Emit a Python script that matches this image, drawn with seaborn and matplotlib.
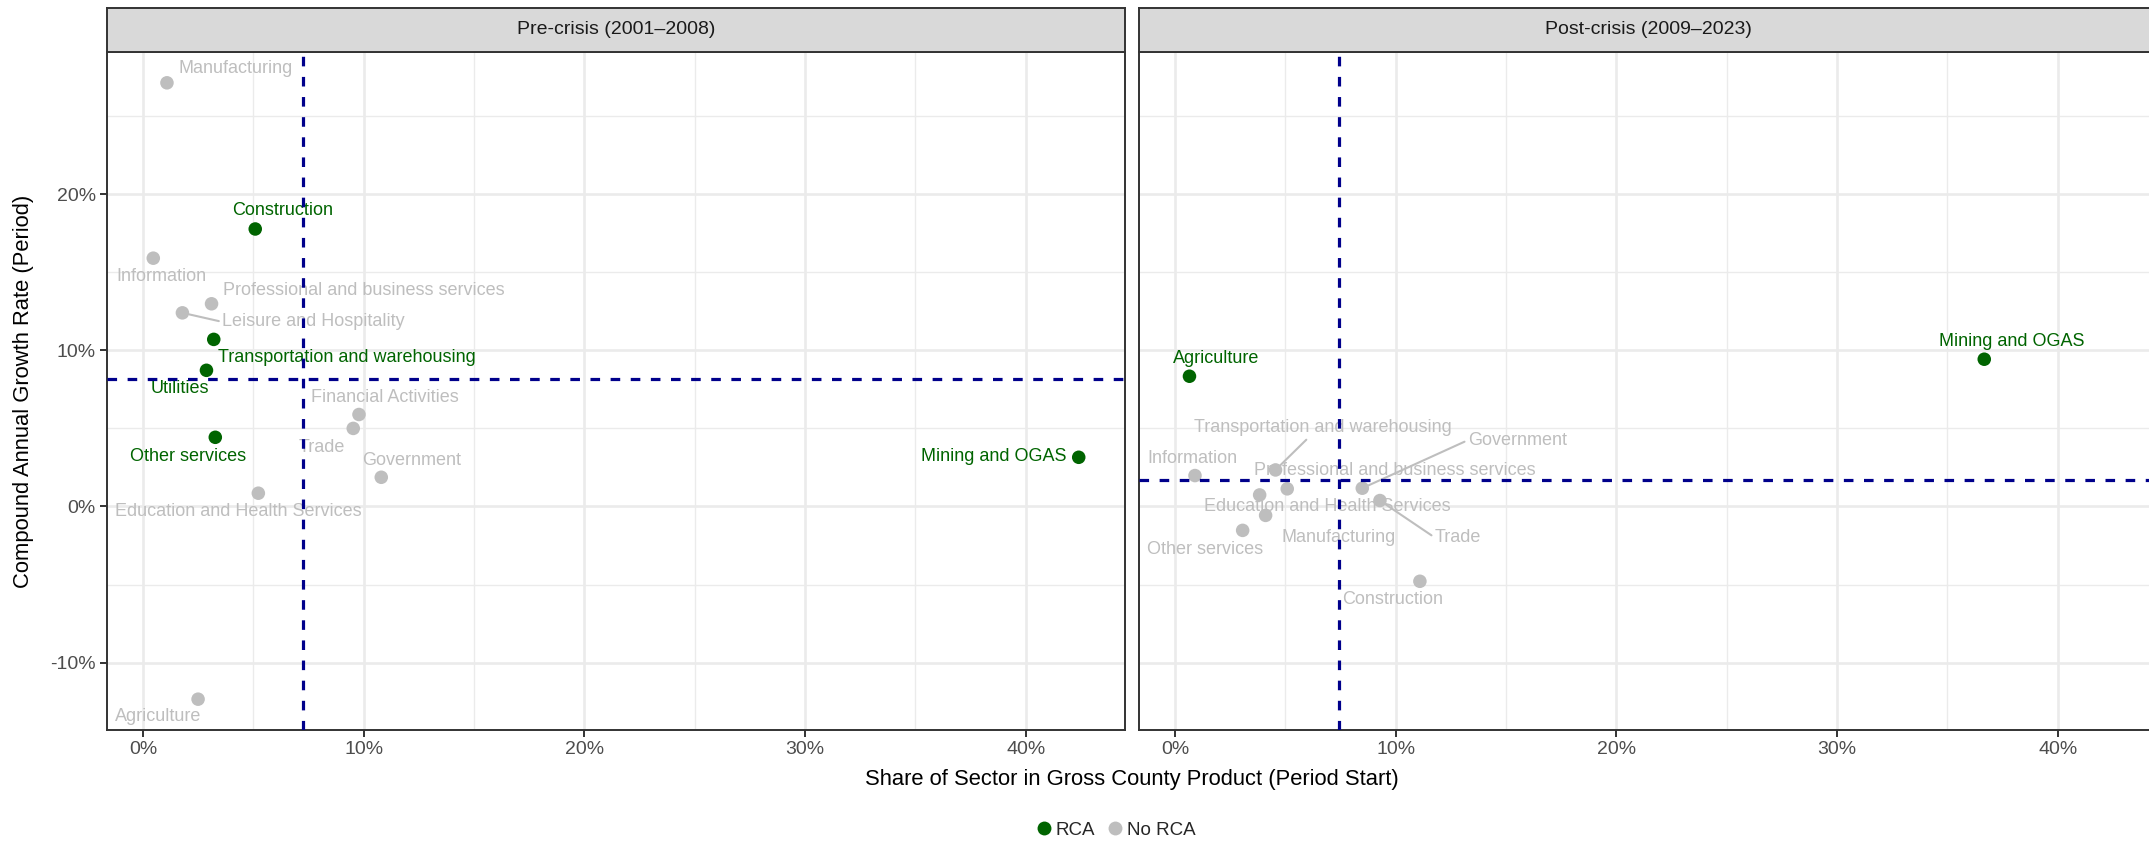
import matplotlib
matplotlib.use("Agg")
import numpy as np
import pandas as pd
import matplotlib.pyplot as plt
import seaborn as sns
from matplotlib.lines import Line2D
from matplotlib.ticker import FuncFormatter, MultipleLocator, FixedLocator

sns.set_theme(style="white")
plt.rcParams["font.family"] = ["Liberation Sans", "DejaVu Sans"]

# ---- data -------------------------------------------------------------
pre_sectors = ["Manufacturing", "Construction", "Information",
               "Professional and business services", "Leisure and Hospitality",
               "Transportation and warehousing", "Utilities", "Financial Activities",
               "Trade", "Other services", "Government",
               "Education and Health Services", "Agriculture", "Mining and OGAS"]
pre_share = [1.09, 5.09, 0.47, 3.11, 1.79, 3.21, 2.88, 9.79, 9.53, 3.28, 10.80, 5.23, 2.50, 42.40]
pre_growth = [27.13, 17.77, 15.90, 12.98, 12.40, 10.70, 8.72, 5.89, 5.00, 4.43, 1.87, 0.85, -12.34, 3.15]
pre_rca = ["No RCA", "RCA", "No RCA", "No RCA", "No RCA", "RCA", "RCA", "No RCA",
           "No RCA", "RCA", "No RCA", "No RCA", "No RCA", "RCA"]

post_sectors = ["Agriculture", "Information", "Transportation and warehousing",
                "Professional and business services", "Education and Health Services",
                "Manufacturing", "Other services", "Government", "Trade",
                "Construction", "Mining and OGAS"]
post_share = [0.66, 0.91, 4.56, 5.09, 3.84, 4.11, 3.07, 8.49, 9.29, 11.10, 36.67]
post_growth = [8.34, 1.98, 2.34, 1.13, 0.74, -0.57, -1.53, 1.17, 0.38, -4.79, 9.43]
post_rca = ["RCA", "No RCA", "No RCA", "No RCA", "No RCA", "No RCA", "No RCA",
            "No RCA", "No RCA", "No RCA", "RCA"]

panel_titles = ["Pre-crisis (2001\u20132008)", "Post-crisis (2009\u20132023)"]
ref_share = [7.24, 7.45]      # average sector share per period
ref_growth = [8.19, 1.70]     # average growth rate per period
x_ticks = [0, 10, 20, 30, 40]
y_ticks = [-10, 0, 10, 20]

palette = {"RCA": "#006400", "No RCA": "#BEBEBE"}

# ---- label placement (pixel offsets of label centre from its point) ----
label_offsets = [
    {
        "Manufacturing": (69, -14), "Construction": (27, -18), "Information": (8, 18),
        "Professional and business services": (152, -13),
        "Leisure and Hospitality": (131, 9),
        "Transportation and warehousing": (133, 18), "Utilities": (-27, 18),
        "Financial Activities": (26, -17), "Trade": (-31, 19),
        "Other services": (-27, 19), "Government": (30, -17),
        "Education and Health Services": (-20, 18), "Agriculture": (-40, 17),
        "Mining and OGAS": (-85, -1),
    },
    {
        "Agriculture": (27, -18), "Information": (-3, -17),
        "Transportation and warehousing": (47, -42),
        "Professional and business services": (108, -18),
        "Education and Health Services": (68, 12), "Manufacturing": (73, 22),
        "Other services": (-38, 19), "Government": (155, -48), "Trade": (78, 37),
        "Construction": (-27, 18), "Mining and OGAS": (27, -18),
    },
]
# labels connected to their point by a segment: relpos on the label box
leaders = [
    {"Leisure and Hospitality": (0.0, 0.5)},
    {"Transportation and warehousing": (0.45, 0.0), "Government": (0.0, 0.5),
     "Trade": (0.0, 0.5)},
]

frames = [
    pd.DataFrame({"sector": pre_sectors, "share": pre_share,
                  "growth": pre_growth, "rca": pre_rca}),
    pd.DataFrame({"sector": post_sectors, "share": post_share,
                  "growth": post_growth, "rca": post_rca}),
]

# shared scales with 5% padding on each side
all_x = np.array(pre_share + post_share)
all_y = np.array(pre_growth + post_growth)
def padded(v):
    lo, hi = v.min(), v.max()
    pad = 0.05 * (hi - lo)
    return lo - pad, hi + pad
xlim = padded(all_x)
ylim = padded(all_y)

# ---- figure -----------------------------------------------------------
W, H = 2149, 844
fig = plt.figure(figsize=(W / 100, H / 100), dpi=100)
fig.patch.set_facecolor("white")

panel_left = [107, 1139]
panel_w = 1018
panel_top, panel_bottom = 52, 730
strip_top = 8

border = "#333333"
grid_c = "#EBEBEB"
pct = FuncFormatter(lambda v, p: f"{v:.0f}%")

for i, df in enumerate(frames):
    ax = fig.add_axes([panel_left[i] / W, (H - panel_bottom) / H,
                       panel_w / W, (panel_bottom - panel_top) / H])
    ax.set_facecolor("white")
    ax.set_xlim(*xlim)
    ax.set_ylim(*ylim)
    ax.xaxis.set_major_locator(FixedLocator(x_ticks))
    ax.yaxis.set_major_locator(FixedLocator(y_ticks))
    ax.xaxis.set_minor_locator(MultipleLocator(5))
    ax.yaxis.set_minor_locator(MultipleLocator(5))
    ax.xaxis.set_major_formatter(pct)
    ax.yaxis.set_major_formatter(pct)
    ax.set_axisbelow(True)
    ax.grid(which="major", color=grid_c, lw=1.9)
    ax.grid(which="minor", color=grid_c, lw=1.0)
    for s in ax.spines.values():
        s.set_color(border)
        s.set_linewidth(1.4)
        s.set_visible(True)
    ax.tick_params(which="major", length=5, width=1.4, color=border,
                   labelsize=14, labelcolor="#4D4D4D", pad=3,
                   bottom=True, left=(i == 0))
    ax.tick_params(which="minor", length=0)
    if i > 0:
        ax.tick_params(labelleft=False)

    sns.scatterplot(data=df, x="share", y="growth", hue="rca", palette=palette,
                    s=95, edgecolor="none", linewidth=0, legend=False,
                    ax=ax, zorder=3)
    ax.set_xlabel("")
    ax.set_ylabel("")

    for _, row in df.iterrows():
        dx, dy = label_offsets[i][row["sector"]]
        col = palette[row["rca"]]
        kw = {}
        if row["sector"] in leaders[i]:
            kw["arrowprops"] = dict(arrowstyle="-", color=col, lw=1.5,
                                    shrinkA=0, shrinkB=5,
                                    relpos=leaders[i][row["sector"]])
        ax.annotate(row["sector"], xy=(row["share"], row["growth"]),
                    xytext=(dx, -dy), textcoords="offset pixels",
                    ha="center", va="center", fontsize=13, color=col,
                    zorder=4, **kw)

    ax.axvline(ref_share[i], color="#00008B", lw=2.3, ls=(0, (3.0, 3.3)), zorder=5)
    ax.axhline(ref_growth[i], color="#00008B", lw=2.3, ls=(0, (3.0, 3.3)), zorder=5)

    # facet strip
    sax = fig.add_axes([panel_left[i] / W, (H - panel_top) / H,
                        panel_w / W, (panel_top - strip_top) / H])
    sax.set_facecolor("#D9D9D9")
    sax.set_xticks([])
    sax.set_yticks([])
    for s in sax.spines.values():
        s.set_color(border)
        s.set_linewidth(1.4)
    sax.text(0.5, 0.5, panel_titles[i], ha="center", va="center",
             fontsize=14, color="#1A1A1A", transform=sax.transAxes)

fig.text(1132 / W, (H - 779) / H,
         "Share of Sector in Gross County Product (Period Start)",
         ha="center", va="center", fontsize=15.8, color="black")
fig.text(24 / W, (H - 391) / H, "Compound Annual Growth Rate (Period)",
         ha="center", va="center", rotation=90, fontsize=15.8, color="black")

handles = [Line2D([], [], marker="o", ls="", color=palette[k], markersize=10,
                  markeredgewidth=0) for k in ["RCA", "No RCA"]]
fig.legend(handles, ["RCA", "No RCA"], loc="center",
           bbox_to_anchor=(1114 / W, (H - 830) / H), ncol=2, frameon=False,
           fontsize=13.5, handletextpad=0.05, columnspacing=0.45,
           handlelength=1.2, borderpad=0.2)

fig.savefig("out.png", dpi=100, facecolor="white")
